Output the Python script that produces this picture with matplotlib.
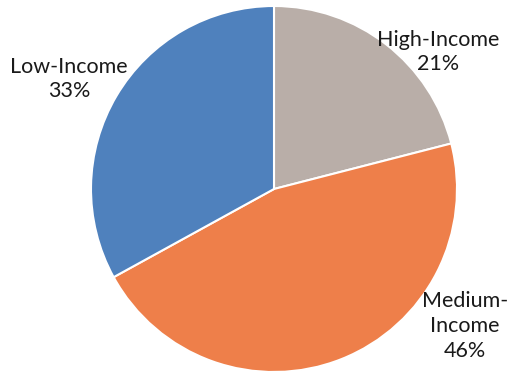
import matplotlib.pyplot as plt

labels = ['High-Income', 'Medium-\nIncome', 'Low-Income']
shares = [21, 46, 33]
colors = ['#B9AEA8', '#EE7F4A', '#4F81BD']
label_pos = [(438, 319), (465, 45), (69, 292)]

fig = plt.figure(figsize=(5.2, 3.71), dpi=100)
ax = fig.add_axes([0, 0, 1, 1])
ax.axis('off')

ax.pie(shares, colors=colors, startangle=90, counterclock=False,
       center=(274, 182), radius=183,
       wedgeprops=dict(edgecolor='white', linewidth=1.5))
ax.set_xlim(0, 520)
ax.set_ylim(0, 371)
ax.set_aspect('equal')

for name, pct, (x, y) in zip(labels, shares, label_pos):
    ax.text(x, y, f'{name}\n{pct}%', ha='center', va='center',
            fontsize=15.5, family='Lato', color='#1a1a1a', linespacing=1.3)

fig.savefig('out.png', dpi=100)
